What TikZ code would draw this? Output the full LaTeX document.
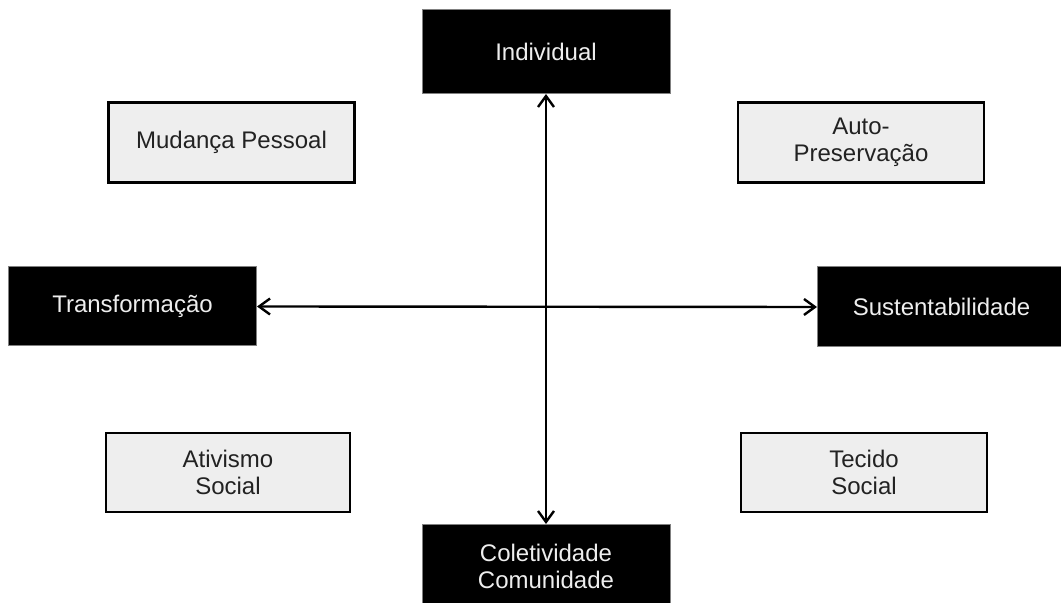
\documentclass[tikz,border=0pt]{standalone}
\usepackage{fontspec}
\setmainfont{Liberation Sans}
\usepackage{tikz}
\usetikzlibrary{arrows.meta,positioning}
\definecolor{boxgray}{HTML}{EEEEEE}
\definecolor{textgray}{HTML}{222222}
\tikzstyle{arrow} = [line width=1.2pt,<->,>={Straight Barb[length=5.5pt,width=8pt]}]

\begin{document}
\begin{tikzpicture}[x=0.5pt,y=-0.5pt]
    \tikzstyle{axisbox}=[fill=black,draw=gray,line width=0.5pt,text=boxgray,align=center,inner sep=0pt,minimum width=124pt,minimum height=42pt,font=\fontsize{12}{13.5}\selectfont]
    \tikzstyle{quadbox}=[fill=boxgray,draw=black,line width=1.4pt,text=textgray,align=center,inner sep=0pt,minimum width=123pt,minimum height=40pt,font=\fontsize{12}{13.5}\selectfont]

    \useasboundingbox (0,0) rectangle (1061,603);
    \clip (0,0) rectangle (1061,603);

    \node [axisbox] (indiv) at (546,51.5) {Individual};
    \node [axisbox, minimum height=39.5pt] (transf) at (132.5,306.5) {Transformação};
    \node [axisbox, minimum height=40pt] (sustent) at (941.5,307) {Sustentabilidade};
    \node [axisbox] (colet) at (546,566.5) {Coletividade\\Comunidade};

    \node [quadbox] (mudanca) at (231.5,142.5) {Mudança Pessoal};
    \node [quadbox] (autopres) at (861,142.5) {Auto-\\Preservação};
    \node [quadbox, minimum width=122pt, minimum height=39.5pt] (ativismo) at (228,472.5) {Ativismo\\Social};
    \node [quadbox, minimum height=39.5pt] (tecido) at (864,472.5) {Tecido\\Social};

    \draw [arrow] (indiv.south) -- (colet.north);
    \draw [arrow] (transf.east) -- (sustent.west);
\end{tikzpicture}
\end{document}
